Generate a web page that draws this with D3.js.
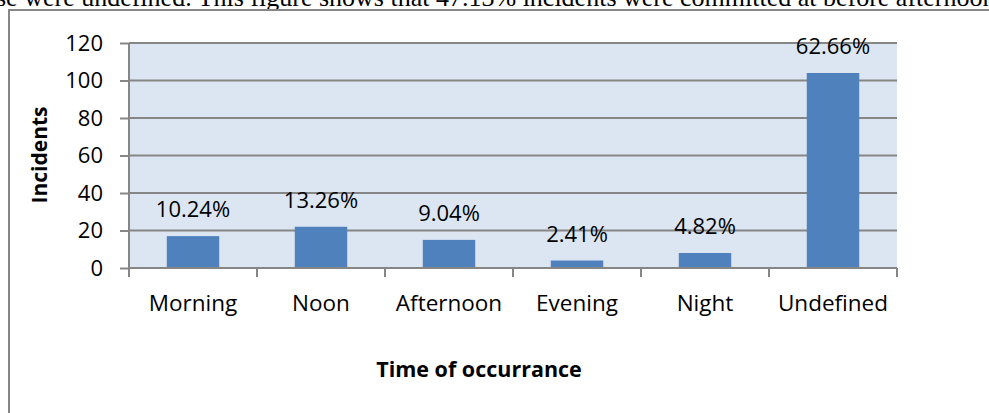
<!DOCTYPE html>
<html>
<head>
<meta charset="UTF-8">
<script src="https://cdn.jsdelivr.net/npm/d3@7/dist/d3.min.js"></script>
<style>
  body { margin: 0; background: #fff; }
  svg { display: block; }
  text { font-family: "Open Sans", sans-serif; fill: #000; }
</style>
</head>
<body>
<svg id="chart" width="989" height="413"></svg>
<script>
// data
let categories = ["Morning", "Noon", "Afternoon", "Evening", "Night", "Undefined"];
let incidents = [17, 22, 15, 4, 8, 104];
let percentLabels = ["10.24%", "13.26%", "9.04%", "2.41%", "4.82%", "62.66%"];
let yTicks = [0, 20, 40, 60, 80, 100, 120];

let svg = d3.select("#chart");

// bit of the paper text above the figure, cut off by the crop
svg.append("text")
    .attr("x", -4)
    .attr("y", 6)
    .style("font-family", "'Liberation Serif', serif")
    .style("font-size", "26px")
    .text("se were undefined. This figure shows that 47.13% incidents were committed at before afternoon");

// chart frame
svg.append("rect")
    .attr("x", 9).attr("y", 10)
    .attr("width", 1000).attr("height", 430)
    .attr("fill", "#fff")
    .attr("stroke", "#868686")
    .attr("stroke-width", 2);

let plotL = 129, plotR = 897, plotT = 43, plotB = 268;

let x = d3.scaleBand().domain(categories).range([plotL, plotR]).paddingInner(0.59).paddingOuter(0.295);
let xc = d3.scaleBand().domain(categories).range([plotL, plotR]);
let y = d3.scaleLinear().domain([0, 120]).range([plotB, plotT]);

// plot background
svg.append("rect")
    .attr("x", plotL).attr("y", plotT)
    .attr("width", plotR - plotL).attr("height", plotB - plotT)
    .attr("fill", "#dce6f2");

// y ticks
let yAxis = svg.append("g")
    .attr("transform", "translate(" + plotL + ",0)")
    .call(d3.axisLeft(y).tickValues(yTicks).tickSize(9).tickPadding(17));
yAxis.select(".domain").remove();
yAxis.selectAll("line").attr("stroke", "#868686").attr("stroke-width", 2);
yAxis.selectAll("text").style("font-size", "22px").style("font-family", "'Open Sans', sans-serif");

// gridlines
svg.append("g")
    .selectAll("line")
    .data(yTicks)
    .enter().append("line")
    .attr("x1", plotL).attr("x2", plotR)
    .attr("y1", function(d) { return y(d); })
    .attr("y2", function(d) { return y(d); })
    .attr("stroke", "#868686")
    .attr("stroke-width", 2);

// left axis line
svg.append("line")
    .attr("x1", plotL).attr("x2", plotL)
    .attr("y1", plotT).attr("y2", plotB)
    .attr("stroke", "#868686").attr("stroke-width", 2);

// bars
svg.append("g")
    .selectAll("rect")
    .data(incidents)
    .enter().append("rect")
    .attr("x", function(d, i) { return x(categories[i]); })
    .attr("y", function(d) { return y(d); })
    .attr("width", x.bandwidth())
    .attr("height", function(d) { return y(0) - y(d); })
    .attr("fill", "#4f81bd");

// percent labels
svg.append("g")
    .selectAll("text")
    .data(incidents)
    .enter().append("text")
    .attr("x", function(d, i) { return x(categories[i]) + x.bandwidth() / 2; })
    .attr("y", function(d) { return y(d) - 19; })
    .attr("text-anchor", "middle")
    .style("font-size", "22px")
    .text(function(d, i) { return percentLabels[i]; });

// x axis: ticks at category boundaries
let boundaries = categories.map(function(c) { return xc(c); }).concat([plotR]);
svg.append("g")
    .selectAll("line")
    .data(boundaries)
    .enter().append("line")
    .attr("x1", function(d) { return d; }).attr("x2", function(d) { return d; })
    .attr("y1", plotB).attr("y2", plotB + 9)
    .attr("stroke", "#868686").attr("stroke-width", 2);
svg.append("line")
    .attr("x1", plotL).attr("x2", plotR)
    .attr("y1", plotB).attr("y2", plotB)
    .attr("stroke", "#868686").attr("stroke-width", 2);

svg.append("g")
    .selectAll("text")
    .data(categories)
    .enter().append("text")
    .attr("x", function(d) { return xc(d) + xc.bandwidth() / 2; })
    .attr("y", 311)
    .attr("text-anchor", "middle")
    .style("font-size", "22.5px")
    .text(function(d) { return d; });

// axis titles
svg.append("text")
    .attr("x", 479).attr("y", 377)
    .attr("text-anchor", "middle")
    .style("font-size", "21.5px").style("font-weight", "bold")
    .text("Time of occurrance");

svg.append("text")
    .attr("transform", "translate(47,155) rotate(-90)")
    .attr("text-anchor", "middle")
    .style("font-size", "21px").style("font-weight", "bold")
    .text("Incidents");
</script>
</body>
</html>
